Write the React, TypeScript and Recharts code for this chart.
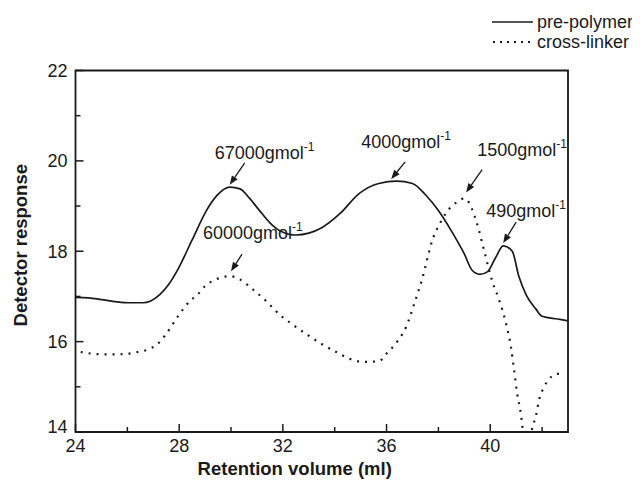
import React from "react";
import { LineChart, Line, XAxis, YAxis, ReferenceDot, ReferenceArea } from "recharts";

const FONT = "'Liberation Sans', Arial, Helvetica, sans-serif";
const INK = "#1a1a1a";

// pre-polymer trace
const prepolymerX = [24.0, 24.5, 25.0, 25.6, 26.1, 26.6, 26.9, 27.25, 27.6, 27.95, 28.5, 29.05, 29.45, 29.95, 30.35, 30.7, 31.1, 31.5, 31.9, 32.5, 33.0, 33.5, 34.2, 34.95, 35.7, 36.4, 37.0, 37.5, 38.0, 38.5, 39.0, 39.3, 39.6, 39.9, 40.2, 40.5, 40.85, 41.1, 41.4, 41.75, 42.0, 42.6, 43.0];
const prepolymerY = [16.98, 16.97, 16.93, 16.88, 16.86, 16.86, 16.9, 17.04, 17.27, 17.6, 18.25, 18.9, 19.23, 19.42, 19.38, 19.18, 18.9, 18.63, 18.45, 18.36, 18.4, 18.52, 18.83, 19.28, 19.5, 19.55, 19.5, 19.25, 18.9, 18.45, 17.94, 17.58, 17.49, 17.55, 17.85, 18.12, 18.0, 17.45, 17.02, 16.73, 16.56, 16.5, 16.46];

// cross-linker trace
const crosslinkerX = [24.2, 25.0, 25.7, 26.4, 26.86, 27.17, 27.5, 27.94, 28.4, 28.71, 28.98, 29.44, 29.95, 30.33, 30.83, 31.37, 31.87, 32.37, 32.95, 33.49, 34.06, 34.57, 35.14, 35.72, 35.99, 36.41, 36.76, 37.07, 37.38, 37.77, 38.11, 38.42, 38.75, 39.0, 39.1, 39.46, 39.77, 40.07, 40.34, 40.61, 40.8, 40.92, 41.03, 41.19, 41.26, 41.43, 41.6, 41.77, 41.88, 42.08, 42.27, 42.54, 42.85];
const crosslinkerY = [15.77, 15.72, 15.72, 15.77, 15.84, 15.95, 16.17, 16.55, 16.89, 17.04, 17.22, 17.38, 17.45, 17.38, 17.16, 16.89, 16.6, 16.38, 16.15, 15.95, 15.77, 15.62, 15.55, 15.57, 15.73, 16.0, 16.33, 16.84, 17.4, 18.25, 18.67, 18.94, 19.1, 19.17, 19.14, 18.67, 18.0, 17.35, 16.93, 16.4, 15.88, 15.37, 14.88, 14.37, 14.03, 13.3, 14.03, 14.37, 14.7, 15.0, 15.17, 15.28, 15.3];

const xTicks = [24, 26, 28, 30, 32, 34, 36, 38, 40, 42];
const yTicks = [14, 15, 16, 17, 18, 19, 20, 21, 22];

// molar mass annotations: arrow tip in data units, tail / text offset in px
const annotations = [
  { mass: "67000", x: 29.95, y: 19.47, tail: [15, -22], text: [-15, -26] },
  { mass: "60000", x: 30.0, y: 17.56, tail: [11, -17], text: [-28, -32] },
  { mass: "4000", x: 36.18, y: 19.6, tail: [14, -17], text: [-30, -31] },
  { mass: "1500", x: 39.07, y: 19.3, tail: [16, -23], text: [11, -37] },
  { mass: "490", x: 40.5, y: 18.18, tail: [13, -21], text: [-17, -26] },
];

const prepolymer = prepolymerX.map((x, i) => ({ x, y: prepolymerY[i] }));
const crosslinker = crosslinkerX.map((x, i) => ({ x, y: crosslinkerY[i] }));

const BottomTick = (props: any) => {
  const { x, y, payload } = props;
  const v = payload.value;
  const major = v % 4 === 0;
  return (
    <g>
      <line x1={x} x2={x} y1={y} y2={y - (major ? 8 : 5)} stroke={INK} strokeWidth={1.5} />
      {major && (
        <text x={x} y={y + 20} textAnchor="middle" fontSize={18} fontFamily={FONT} fill={INK}>
          {v}
        </text>
      )}
    </g>
  );
};

const TopTick = (props: any) => {
  const { x, y, payload } = props;
  const major = payload.value % 4 === 0;
  return <line x1={x} x2={x} y1={y} y2={y + (major ? 8 : 5)} stroke={INK} strokeWidth={1.5} />;
};

const LeftTick = (props: any) => {
  const { x, y, payload } = props;
  const v = payload.value;
  const major = v % 2 === 0;
  return (
    <g>
      <line x1={x} x2={x + (major ? 8 : 5)} y1={y} y2={y} stroke={INK} strokeWidth={1.5} />
      {major && (
        <text x={x - 8} y={y + (v === 14 ? 1 : 6.5)} textAnchor="end" fontSize={18} fontFamily={FONT} fill={INK}>
          {v}
        </text>
      )}
    </g>
  );
};

const RightTick = (props: any) => {
  const { x, y, payload } = props;
  const major = payload.value % 2 === 0;
  return <line x1={x} x2={x - (major ? 8 : 5)} y1={y} y2={y} stroke={INK} strokeWidth={1.5} />;
};

const Arrow = ({ cx, cy, a }: any) => {
  const tx = cx + a.tail[0];
  const ty = cy + a.tail[1];
  const dx = cx - tx;
  const dy = cy - ty;
  const len = Math.hypot(dx, dy);
  const ux = dx / len;
  const uy = dy / len;
  const bx = cx - ux * 9;
  const by = cy - uy * 9;
  const head = `${cx},${cy} ${bx - uy * 3.5},${by + ux * 3.5} ${bx + uy * 3.5},${by - ux * 3.5}`;
  return (
    <g>
      <line x1={tx} y1={ty} x2={bx} y2={by} stroke={INK} strokeWidth={1.3} />
      <polygon points={head} fill={INK} />
      <text x={cx + a.text[0]} y={cy + a.text[1]} fontSize={18} fontFamily={FONT} fill={INK}>
        {a.mass}gmol
        <tspan dy={-8} fontSize={12}>-1</tspan>
      </text>
    </g>
  );
};

export default function App() {
  return (
    <div style={{ position: "relative", width: 624, height: 473 }}>
      <LineChart width={624} height={473} margin={{ top: 62.5, right: 64, left: 0, bottom: 0 }}>
        <XAxis
          dataKey="x"
          type="number"
          domain={[24, 43]}
          ticks={xTicks}
          interval={0}
          allowDataOverflow
          height={49}
          tickSize={0}
          tickMargin={0}
          tickLine={false}
          axisLine={false}
          tick={<BottomTick />}
          label={{
            value: "Retention volume (ml)",
            position: "insideBottom",
            offset: 6,
            dx: -27,
            style: { fontSize: 18.5, fontWeight: "bold", fontFamily: FONT, fill: INK },
          }}
        />
        <XAxis
          xAxisId="top"
          orientation="top"
          type="number"
          domain={[24, 43]}
          ticks={xTicks}
          interval={0}
          allowDataOverflow
          height={0}
          tickSize={0}
          tickMargin={0}
          tickLine={false}
          axisLine={false}
          tick={<TopTick />}
        />
        <YAxis
          type="number"
          domain={[14, 22]}
          ticks={yTicks}
          interval={0}
          allowDataOverflow
          width={67.5}
          tickSize={0}
          tickMargin={0}
          tickLine={false}
          axisLine={false}
          tick={<LeftTick />}
          label={{
            value: "Detector response",
            angle: -90,
            position: "insideLeft",
            offset: 12,
            dy: -6,
            style: { textAnchor: "middle", fontSize: 18.5, fontWeight: "bold", fontFamily: FONT, fill: INK },
          }}
        />
        <YAxis
          yAxisId="right"
          orientation="right"
          type="number"
          domain={[14, 22]}
          ticks={yTicks}
          interval={0}
          allowDataOverflow
          width={0}
          tickSize={0}
          tickMargin={0}
          tickLine={false}
          axisLine={false}
          tick={<RightTick />}
        />
        <ReferenceArea
          x1={24}
          x2={43}
          y1={14}
          y2={22}
          ifOverflow="visible"
          fill="none"
          fillOpacity={0}
          stroke={INK}
          strokeWidth={1.8}
        />
        <Line
          data={prepolymer}
          dataKey="y"
          type="monotone"
          stroke={INK}
          strokeWidth={1.7}
          dot={false}
          isAnimationActive={false}
        />
        <Line
          data={crosslinker}
          dataKey="y"
          type="monotone"
          stroke={INK}
          strokeWidth={2.2}
          strokeDasharray="2 6"
          dot={false}
          isAnimationActive={false}
        />
        {annotations.map((a) => (
          <ReferenceDot
            key={a.mass}
            x={a.x}
            y={a.y}
            r={0}
            ifOverflow="visible"
            shape={(p: any) => <Arrow cx={p.cx} cy={p.cy} a={a} />}
          />
        ))}
      </LineChart>
      <svg
        width={624}
        height={50}
        style={{ position: "absolute", left: 0, top: 0, pointerEvents: "none" }}
      >
        <line x1={484} x2={525} y1={14} y2={14} stroke={INK} strokeWidth={1.7} />
        <text x={529} y={20} fontSize={18} fontFamily={FONT} fill={INK}>pre-polymer</text>
        <line x1={485} x2={525} y1={34} y2={34} stroke={INK} strokeWidth={2} strokeDasharray="2 5" />
        <text x={529} y={40} fontSize={18} fontFamily={FONT} fill={INK}>cross-linker</text>
      </svg>
    </div>
  );
}
